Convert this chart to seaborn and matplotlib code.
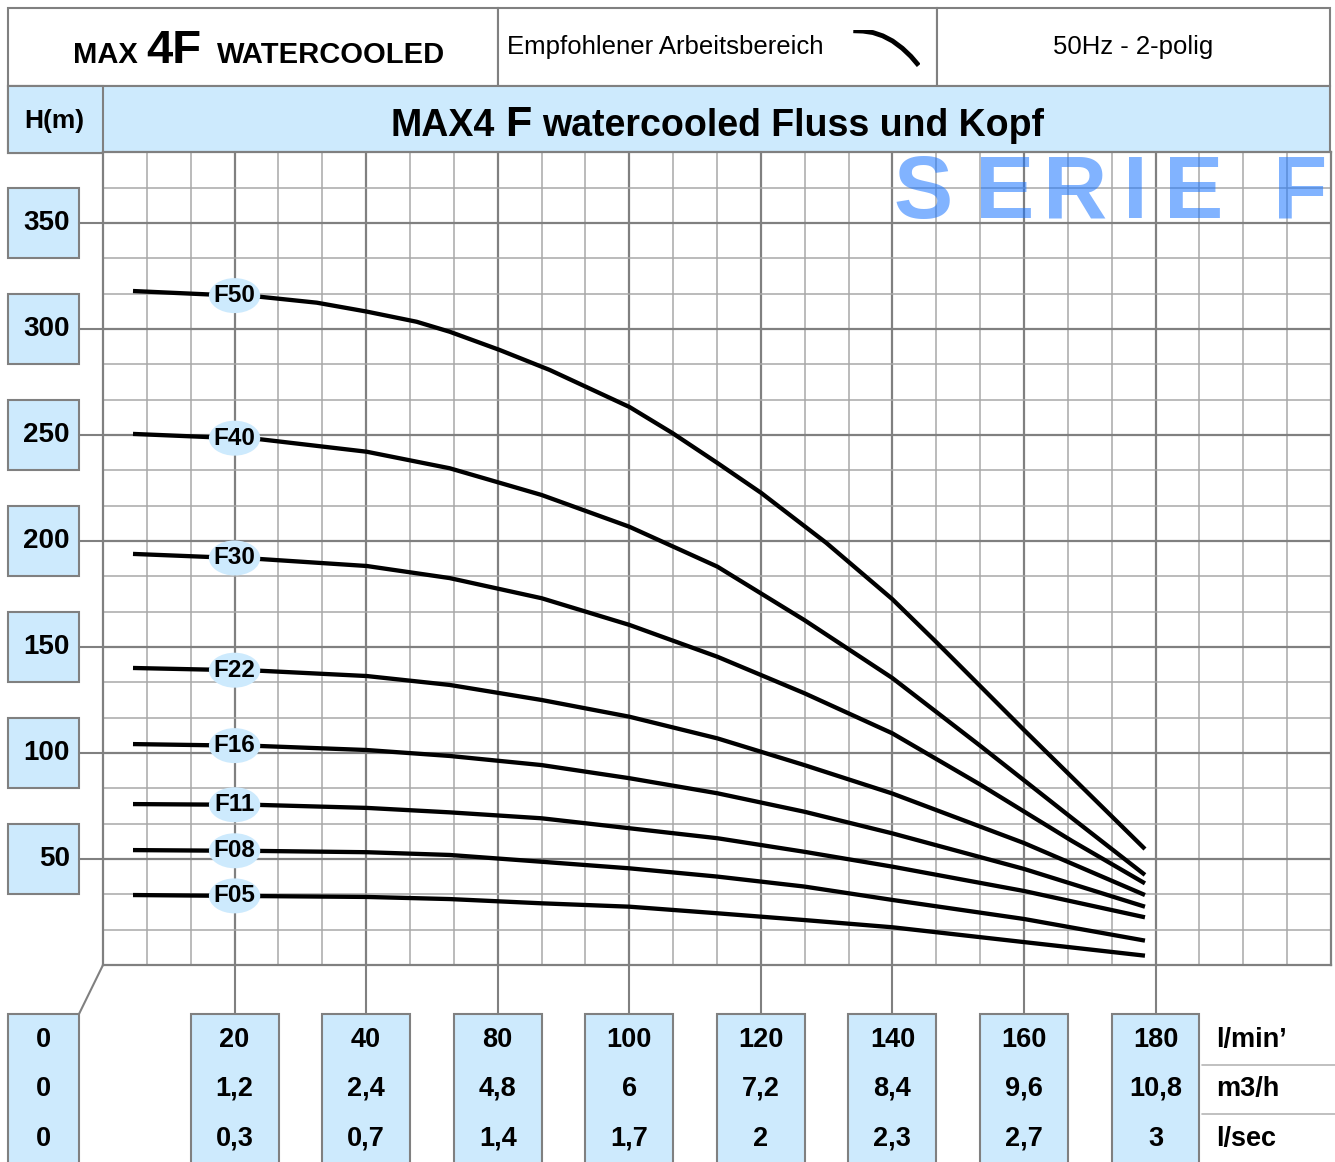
import numpy as np
import pandas as pd
import seaborn as sns
import matplotlib.pyplot as plt
import matplotlib.transforms as mtransforms
from matplotlib.patches import Rectangle, Ellipse
from matplotlib.lines import Line2D

# x axis: equally spaced flow cells (one major cell = 20 on the chart scale)
flow_ticks = [20, 40, 60, 80, 100, 120, 140, 160]
lmin_labels = ["20", "40", "80", "100", "120", "140", "160", "180"]
m3h_labels = ["1,2", "2,4", "4,8", "6", "7,2", "8,4", "9,6", "10,8"]
lsec_labels = ["0,3", "0,7", "1,4", "1,7", "2", "2,3", "2,7", "3"]
unit_labels = ["l/min\u2019", "m3/h", "l/sec"]
head_ticks = [50, 100, 150, 200, 250, 300, 350]

# pump curves (head in m)
flow_f50 = [4.56, 23.84, 32.5, 40.09, 47.68, 52.7, 60.29, 67.88, 80.03, 86.56, 93.39,
            100.08, 109.95, 119.97, 126.8, 140.02, 158.39]
head_f50 = [317.9, 315.2, 312.4, 308.2, 303.4, 298.7, 290.1, 280.7, 263.2, 250.9, 236.8,
            222.6, 199.1, 172.6, 151.9, 110.8, 54.7]

flow_f40 = [4.56, 23.84, 40.09, 52.7, 66.67, 80.03, 93.39, 106.61, 119.97, 133.18, 147.3, 158.39]
head_f40 = [250.5, 248.0, 242.1, 234.3, 221.7, 206.7, 187.9, 162.7, 135.4, 103.8, 69.3, 42.5]

flow_f30 = [4.56, 23.84, 40.09, 52.7, 66.67, 80.03, 93.39, 106.61, 119.97, 133.18, 147.3, 158.39]
head_f30 = [193.9, 191.5, 188.2, 182.5, 173.0, 160.4, 145.4, 128.2, 109.3, 85.4, 58.5, 38.5]

flow_low = [4.56, 23.84, 40.09, 52.7, 66.67, 80.03, 93.39, 106.61, 119.97, 140.02, 158.39]
head_f22 = [140.1, 138.8, 136.3, 132.1, 125.0, 117.1, 106.9, 94.3, 80.9, 57.5, 33.0]
head_f16 = [104.2, 103.3, 101.4, 98.6, 94.3, 88.1, 81.0, 72.3, 62.1, 45.3, 27.5]
head_f11 = [75.9, 75.5, 74.1, 72.0, 69.2, 64.5, 59.8, 53.4, 46.4, 34.9, 22.5]
head_f08 = [54.2, 53.8, 53.2, 51.9, 48.7, 45.6, 41.7, 37.0, 30.7, 21.7, 11.5]
head_f05 = [33.0, 32.5, 32.1, 31.1, 29.1, 27.5, 24.4, 21.2, 17.8, 10.8, 4.4]

models = ["F50", "F40", "F30", "F22", "F16", "F11", "F08", "F05"]
flows = [flow_f50, flow_f40, flow_f30, flow_low, flow_low, flow_low, flow_low, flow_low]
heads = [head_f50, head_f40, head_f30, head_f22, head_f16, head_f11, head_f08, head_f05]

# little "recommended range" glyph in the header
icon_x = [0.0, 0.15, 0.3, 0.45, 0.6, 0.75, 0.88, 1.0]
icon_y = [1.0, 0.99, 0.95, 0.86, 0.72, 0.52, 0.30, 0.05]

W, H = 1335, 1162
BLUE = "#cdeafd"
GREY = "#808080"


def fx(px):
    return px / W


def fy(py):
    return 1 - py / H


sns.set_style("white")
plt.rcParams["font.family"] = ["Liberation Sans", "DejaVu Sans"]
plt.rcParams["text.color"] = "black"

fig = plt.figure(figsize=(W / 100, H / 100), dpi=100)


def box(x0, y0, x1, y1, fc="white", ec=GREY, lw=1.5, z=1):
    fig.patches.append(Rectangle((fx(x0), fy(y1)), fx(x1) - fx(x0), fy(y0) - fy(y1),
                                 transform=fig.transFigure, fc=fc, ec=ec, lw=lw, zorder=z))


# header row
box(8, 8, 498, 86)
box(498, 8, 937, 86)
box(937, 8, 1330, 86)
fig.text(fx(73), fy(63), "MAX", fontsize=21, fontweight="bold", va="baseline")
fig.text(fx(146), fy(63), "4F", fontsize=34, fontweight="bold", va="baseline")
fig.text(fx(217), fy(63), "WATERCOOLED", fontsize=21, fontweight="bold", va="baseline")
fig.text(fx(507), fy(47), "Empfohlener Arbeitsbereich", fontsize=18.5, va="center")
fig.text(fx(1133), fy(47), "50Hz - 2-polig", fontsize=18.5, va="center", ha="center")

iax = fig.add_axes([fx(852), fy(68), fx(920) - fx(852), fy(30) - fy(68)], zorder=5)
iax.plot(icon_x, icon_y, color="black", lw=3.5, solid_capstyle="butt")
iax.set_xlim(-0.02, 1.02)
iax.set_ylim(-0.02, 1.02)
iax.axis("off")

# blue title band
box(8, 86, 1330, 153, fc=BLUE)
box(8, 86, 103, 153, fc=BLUE)
fig.text(fx(54), fy(121), "H(m)", fontsize=19, fontweight="bold", ha="center", va="center")
fig.text(fx(495), fy(136), "MAX4", fontsize=27, fontweight="bold", ha="right", va="baseline")
fig.text(fx(518), fy(136), "F", fontsize=31, fontweight="bold", ha="center", va="baseline")
fig.text(fx(542), fy(136), "watercooled Fluss und Kopf", fontsize=27, fontweight="bold",
         ha="left", va="baseline")

# main chart
ax = fig.add_axes([fx(103), fy(965), fx(1331) - fx(103), fy(152.3) - fy(965)], zorder=2)
ax.set_xlim(0, 186.67)
ax.set_ylim(0, 383.33)
ax.set_xticks(flow_ticks)
ax.set_xticks(np.arange(0, 187, 20 / 3), minor=True)
ax.set_yticks(head_ticks)
ax.set_yticks(np.arange(0, 384, 50 / 3), minor=True)
ax.grid(which="major", color=GREY, lw=1.6, zorder=0)
ax.grid(which="minor", color="#a8a8a8", lw=1.1, zorder=0)
ax.set_axisbelow(True)
ax.tick_params(which="both", length=0, labelbottom=False, labelleft=False)
for sp in ax.spines.values():
    sp.set_color(GREY)
    sp.set_linewidth(1.6)

df = pd.DataFrame({
    "model": np.concatenate([[m] * len(f) for m, f in zip(models, flows)]),
    "flow": np.concatenate(flows),
    "head": np.concatenate(heads),
})
sns.lineplot(data=df, x="flow", y="head", units="model", estimator=None, sort=False,
             color="black", lw=3.1, legend=False, ax=ax, zorder=3)
for ln in ax.lines:
    ln.set_solid_capstyle("butt")
    ln.set_solid_joinstyle("round")
ax.set_xlabel("")
ax.set_ylabel("")

for name, fl, hd in zip(models, flows, heads):
    yl = np.interp(20, fl, hd)
    ax.add_patch(Ellipse((20, yl), 7.8, 16.5, fc=BLUE, ec="none", zorder=4))
    ax.text(20, yl, name, ha="center", va="center", fontsize=17.5, fontweight="bold", zorder=5)

# SERIE F watermark
serie_letters = ["S", "E", "R", "I", "E", "F"]
serie_px = [923, 1005, 1075, 1135, 1194, 1300]
for ch, px in zip(serie_letters, serie_px):
    fig.text(fx(px), fy(218), ch, fontsize=64, fontweight="bold", color="#1a75ff",
             alpha=0.55, ha="center", va="baseline", zorder=10)

# y tick boxes on the left
ytr = mtransforms.blended_transform_factory(fig.transFigure, ax.transData)
for t in head_ticks:
    ax.add_patch(Rectangle((fx(8), t - 16.5), fx(79) - fx(8), 33, transform=ytr,
                           fc=BLUE, ec=GREY, lw=1.5, clip_on=False))
    ax.add_line(Line2D([fx(79), fx(103)], [t, t], transform=ytr, color=GREY, lw=1.5,
                       clip_on=False))
    ax.text(fx(70), t, str(t), transform=ytr, ha="right", va="center", fontsize=20,
            fontweight="bold")

# x tick boxes below
xtr = mtransforms.blended_transform_factory(ax.transData, fig.transFigure)
rows_py = [1040, 1089, 1139]
for i, t in enumerate(flow_ticks):
    ax.add_patch(Rectangle((t - 6.68, fy(1180)), 13.36, fy(1014) - fy(1180), transform=xtr,
                           fc=BLUE, ec=GREY, lw=1.5, clip_on=False))
    ax.add_line(Line2D([t, t], [fy(965), fy(1014)], transform=xtr, color=GREY, lw=1.5,
                       clip_on=False))
    for lab, py in zip([lmin_labels[i], m3h_labels[i], lsec_labels[i]], rows_py):
        ax.text(t, fy(py), lab, transform=xtr, ha="center", va="center", fontsize=19.5,
                fontweight="bold")

# zero column
box(8, 1014, 79, 1180, fc=BLUE)
fig.lines.append(Line2D([fx(79), fx(103)], [fy(1014), fy(965)], transform=fig.transFigure,
                        color=GREY, lw=1.5))
for py in rows_py:
    fig.text(fx(43), fy(py), "0", ha="center", va="center", fontsize=19.5, fontweight="bold")

# unit column
for lab, py in zip(unit_labels, rows_py):
    fig.text(fx(1216), fy(py), lab, ha="left", va="center", fontsize=19.5, fontweight="bold")
for py in [1065, 1114]:
    fig.lines.append(Line2D([fx(1202), fx(1335)], [fy(py), fy(py)], transform=fig.transFigure,
                            color="#b5b5b5", lw=1.2))

fig.savefig("out.png", dpi=100, facecolor="white")
